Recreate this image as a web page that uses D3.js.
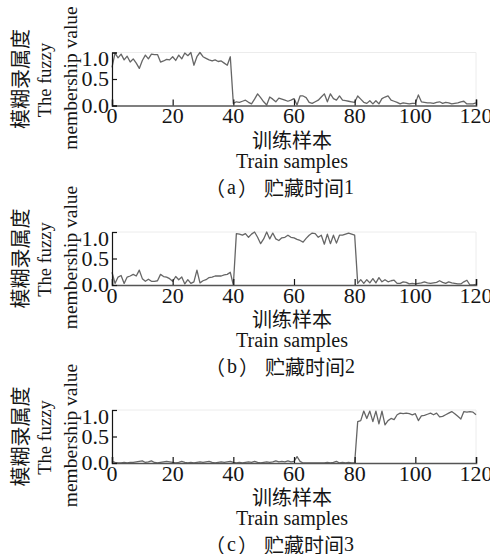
<!DOCTYPE html>
<html>
<head>
<meta charset="utf-8">
<script src="https://cdn.jsdelivr.net/npm/d3@7"></script>
<style>
  html, body { margin: 0; padding: 0; background: #fff; }
  svg { display: block; }
  .serif { font-family: "Liberation Serif", "Times New Roman", "Noto Sans CJK SC", serif; }
  .cjk { font-family: "Noto Sans CJK SC", sans-serif; }
</style>
</head>
<body>
<svg id="chart" width="490" height="554"></svg>
<script>
// sample index 0..120
const samples = d3.range(0, 121);

const seriesA = [
  0.72, 0.99, 0.90, 0.97, 0.86, 0.93, 0.82, 0.88, 0.80, 0.70,
  0.85, 0.95, 0.88, 0.97, 0.96, 0.96, 0.82, 0.84, 0.87, 0.86,
  0.92, 0.85, 0.95, 0.88, 0.99, 0.94, 1.00, 0.76, 0.92, 1.00,
  0.92, 0.89, 0.86, 0.84, 0.86, 0.83, 0.84, 0.80, 0.76, 0.92,
  0.04, 0.07, 0.06, 0.08, 0.10, 0.06, 0.03, 0.12, 0.22, 0.15,
  0.07, 0.01, 0.16, 0.12, 0.07, 0.14, 0.12, 0.10, 0.08, 0.10,
  0.13, 0.01, 0.18, 0.18, 0.15, 0.06, 0.04, 0.07, 0.10, 0.16,
  0.22, 0.07, 0.22, 0.13, 0.10, 0.18, 0.10, 0.09, 0.08, 0.07,
  0.06, 0.18, 0.12, 0.06, 0.04, 0.09, 0.03, 0.09, 0.03, 0.13,
  0.16, 0.18, 0.10, 0.08, 0.06, 0.03, 0.05, 0.04, 0.03, 0.04,
  0.04, 0.20, 0.07, 0.06, 0.05, 0.05, 0.04, 0.06, 0.07, 0.04,
  0.06, 0.05, 0.03, 0.04, 0.05, 0.07, 0.08, 0.03, 0.03, 0.03, 0.05
];

const seriesB = [
  0.24, 0.03, 0.15, 0.18, 0.03, 0.15, 0.17, 0.20, 0.17, 0.28,
  0.12, 0.07, 0.11, 0.07, 0.07, 0.08, 0.20, 0.16, 0.15, 0.12,
  0.07, 0.16, 0.10, 0.15, 0.02, 0.10, 0.03, 0.06, 0.28, 0.04,
  0.08, 0.10, 0.14, 0.15, 0.17, 0.17, 0.17, 0.19, 0.20, 0.24,
  0.00,
  0.97, 0.96, 0.94, 0.97, 0.90, 0.96, 1.00, 0.90, 0.78, 0.87,
  1.00, 0.87, 0.98, 0.87, 0.84, 0.89, 0.90, 0.94, 0.90, 0.89,
  0.86, 0.84, 0.81, 0.88, 0.94, 0.98, 0.97, 0.90, 0.94, 0.77,
  0.96, 0.78, 0.94, 0.79, 0.94, 0.94, 0.96, 0.98, 0.96, 0.94,
  0.03, 0.10, 0.03, 0.10, 0.04, 0.12, 0.04, 0.14, 0.06, 0.10,
  0.06, 0.08, 0.09, 0.03, 0.03, 0.06, 0.05, 0.02, 0.03, 0.02,
  0.03, 0.04, 0.06, 0.04, 0.03, 0.04, 0.05, 0.08, 0.05, 0.03,
  0.06, 0.04, 0.03, 0.02, 0.02, 0.06, 0.09, 0.00, 0.00, 0.01
];

const seriesC = [
  0.03, 0.01, 0.00, 0.00, 0.01, 0.00, 0.01, 0.01, 0.02, 0.03,
  0.04, 0.01, 0.02, 0.04, 0.01, 0.00, 0.01, 0.02, 0.03, 0.02,
  0.01, 0.00, 0.01, 0.03, 0.01, 0.00, 0.01, 0.00, 0.01, 0.02,
  0.01, 0.02, 0.03, 0.01, 0.00, 0.01, 0.02, 0.01, 0.02, 0.03,
  0.01, 0.00, 0.01, 0.00, 0.01, 0.02, 0.01, 0.03, 0.01, 0.00,
  0.01, 0.02, 0.01, 0.02, 0.04, 0.02, 0.03, 0.02, 0.04, 0.02,
  0.03, 0.12, 0.03, 0.00, 0.00, 0.00, 0.00, 0.00, 0.00, 0.00,
  0.00, 0.01, 0.00, 0.01, 0.03, 0.00, 0.01, 0.00, 0.01, 0.00,
  0.00,
  0.78, 0.80, 0.98, 0.84, 0.98, 0.78, 0.98, 0.74, 0.98, 0.72,
  0.80, 0.84, 0.82, 0.91, 0.94, 0.93, 0.94, 0.93, 0.91, 0.93,
  0.80, 0.89, 0.90, 0.92, 0.94, 0.91, 0.94, 0.87, 0.88, 0.91,
  0.94, 0.97, 0.93, 0.88, 0.83, 0.97, 0.96, 0.97, 0.96, 0.91
];

const xTicks = [0, 20, 40, 60, 80, 100, 120];
const yTicks = [0, 0.5, 1.0];
const panelLetters = ['a', 'b', 'c'];
const panelNumbers = ['1', '2', '3'];
const captionText = '贮藏时间';
const yLabelCn = '模糊录属度';
const yLabelEn1 = 'The fuzzy';
const yLabelEn2 = 'membership value';
const xLabelCn = '训练样本';
const xLabelEn = 'Train samples';

const allSeries = [seriesA, seriesB, seriesC];

// layout
const left = 112, right = 476;
const panelTops = [52.5, 232, 410];
const plotH = 53;
const ink = '#151515';

const svg = d3.select('#chart');

const x = d3.scaleLinear().domain([0, 120]).range([left, right]);

allSeries.forEach((values, k) => {
  const top = panelTops[k];
  const bottom = top + plotH;
  const y = d3.scaleLinear().domain([0, 1]).range([bottom, top]);
  const g = svg.append('g');

  // faint box
  g.append('path')
    .attr('d', `M${left},${top}H${right}V${bottom}`)
    .attr('fill', 'none')
    .attr('stroke', '#ececec')
    .attr('stroke-width', 1);

  // data line
  const line = d3.line()
    .x((d, i) => x(samples[i]))
    .y((d) => y(d));

  g.append('path')
    .datum(values)
    .attr('d', line)
    .attr('fill', 'none')
    .attr('stroke', '#666')
    .attr('stroke-width', 1.3)
    .attr('stroke-linejoin', 'round');

  // x axis (ticks inward)
  const xAxis = d3.axisBottom(x)
    .tickValues(xTicks)
    .tickSize(-6)
    .tickFormat('');
  const gx = g.append('g')
    .attr('transform', `translate(0,${bottom})`)
    .call(xAxis);
  gx.select('.domain').attr('stroke', '#555').attr('stroke-width', 1.6);
  gx.selectAll('.tick line').attr('stroke', ink).attr('stroke-width', 1.2);

  gx.selectAll('.tlabel')
    .data(xTicks)
    .enter()
    .append('text')
    .attr('class', 'serif')
    .attr('x', (d) => x(d))
    .attr('y', 17.5)
    .attr('text-anchor', 'middle')
    .attr('font-size', 22)
    .attr('fill', ink)
    .text((d) => d);

  // y axis (ticks inward)
  const yAxis = d3.axisLeft(y)
    .tickValues(yTicks)
    .tickSize(-5)
    .tickFormat('');
  const gy = g.append('g')
    .attr('transform', `translate(${left},0)`)
    .call(yAxis);
  gy.select('.domain').attr('stroke', ink).attr('stroke-width', 1.2);
  gy.selectAll('.tick line').attr('stroke', ink).attr('stroke-width', 1.2);

  gy.selectAll('.ylabel')
    .data(yTicks)
    .enter()
    .append('text')
    .attr('class', 'serif')
    .attr('x', -3)
    .attr('y', (d) => Math.max(y(d), top + 6.3))
    .attr('dy', '0.33em')
    .attr('text-anchor', 'end')
    .attr('font-size', 22)
    .attr('fill', ink)
    .text((d) => d3.format('.1f')(d));

  const midY = (top + bottom) / 2;

  // y titles
  g.append('text')
    .attr('class', 'cjk')
    .attr('transform', `translate(19,${midY}) rotate(-90)`)
    .attr('text-anchor', 'middle')
    .attr('dominant-baseline', 'central')
    .attr('font-size', 20)
    .attr('fill', ink)
    .text(yLabelCn);

  g.append('text')
    .attr('class', 'serif')
    .attr('transform', `translate(51,${midY + 1}) rotate(-90)`)
    .attr('text-anchor', 'middle')
    .attr('font-size', 18.5)
    .attr('fill', ink)
    .text(yLabelEn1);

  g.append('text')
    .attr('class', 'serif')
    .attr('transform', `translate(77,${midY - 1}) rotate(-90)`)
    .attr('text-anchor', 'middle')
    .attr('font-size', 19.5)
    .attr('fill', ink)
    .text(yLabelEn2);

  // x titles
  g.append('text')
    .attr('class', 'cjk')
    .attr('x', 292)
    .attr('y', bottom + 33.5)
    .attr('text-anchor', 'middle')
    .attr('dominant-baseline', 'central')
    .attr('font-size', 20)
    .attr('fill', ink)
    .text(xLabelCn);

  g.append('text')
    .attr('class', 'serif')
    .attr('x', 292)
    .attr('y', bottom + 62)
    .attr('text-anchor', 'middle')
    .attr('font-size', 20)
    .attr('fill', ink)
    .text(xLabelEn);

  // panel caption: （a） 贮藏时间1
  const cap = g.append('text')
    .attr('x', 205)
    .attr('y', bottom + 81)
    .attr('dominant-baseline', 'central')
    .attr('font-size', 20)
    .attr('fill', ink);
  cap.append('tspan').attr('class', 'cjk').text('（');
  cap.append('tspan').attr('class', 'serif').attr('dx', 2).text(panelLetters[k]);
  cap.append('tspan').attr('class', 'cjk').attr('dx', 2).text('）');
  cap.append('tspan').attr('class', 'cjk').attr('dx', 6).text(captionText);
  cap.append('tspan').attr('class', 'serif').text(panelNumbers[k]);
});
</script>
</body>
</html>
